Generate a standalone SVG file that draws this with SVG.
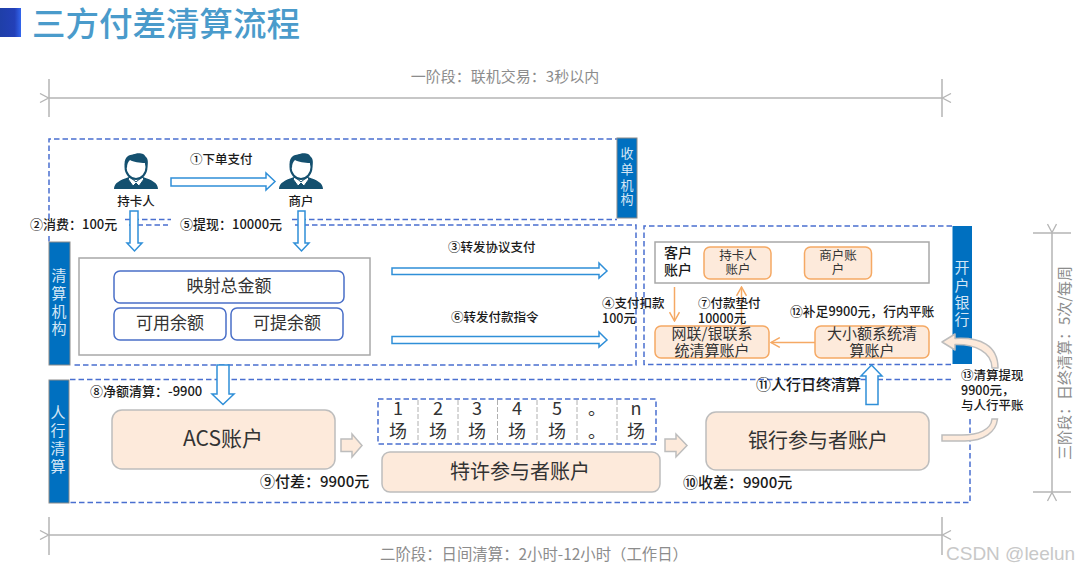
<svg xmlns="http://www.w3.org/2000/svg" width="1080" height="570" viewBox="0 0 1080 570">
<style>
text{font-family:"Noto Sans CJK SC","Noto Sans",sans-serif}
.dim{stroke:#b5b5b5;stroke-width:1.5;fill:none}
.dimt{fill:#8c8c8c;font-size:15px;text-anchor:middle}
.dash{stroke:#4a6fd0;stroke-width:1.5;stroke-dasharray:5.500 3;fill:none}
.bar{fill:#0070c0;stroke:#8a8a8a;stroke-width:1}
.bart{fill:#d4e6f5;text-anchor:middle}
.hol{fill:#fff;stroke:#2f8fd8;stroke-width:1.5}
.lab{fill:#1a1a1a;font-size:12.500px;font-weight:500}
.lab13{fill:#1a1a1a;font-size:13px;font-weight:500}
.lab15{fill:#1a1a1a;font-size:15px;font-weight:500}
.box{fill:#fff;stroke:#a8a8a8;stroke-width:1.5}
.blue{fill:#fff;stroke:#4a6fc8;stroke-width:1.5}
.or{fill:#fdeadb;stroke:#f5a964;stroke-width:1.5}
.pe{fill:#fdeadb;stroke:#bdbdbd;stroke-width:1.5}
.t{fill:#333;text-anchor:middle}
.ol{stroke:#f5a964;stroke-width:1.5;fill:none}
.sep{stroke:#b0b0b0;stroke-width:1;stroke-dasharray:5 2}
</style>
<defs>
<linearGradient id="tg" x1="0" x2="1" y1="0" y2="0"><stop offset="0" stop-color="#1f3fa8"/><stop offset="0.7" stop-color="#2340b8"/><stop offset="1" stop-color="#3366ee"/></linearGradient>
<marker id="da" viewBox="0 0 10 10" refX="0" refY="5" markerWidth="10" markerHeight="10" markerUnits="userSpaceOnUse" orient="auto-start-reverse"><path d="M9,0.5L0.5,5L9,9.5" fill="none" stroke="#b5b5b5" stroke-width="1.3"/></marker>
<marker id="oa" viewBox="0 0 10 10" refX="9" refY="5" markerWidth="11" markerHeight="11" markerUnits="userSpaceOnUse" orient="auto"><path d="M1,0.5L9,5L1,9.5" fill="none" stroke="#f5a964" stroke-width="1.3"/></marker>
<symbol id="person" viewBox="-23 0 46 37" width="46" height="37" overflow="visible">
<path d="M-22,36C-22,30 -16,27 -7,24L0,29L7,24C16,27 22,30 22,36Z" fill="#14506f"/>
<path d="M-6,24L0,29L6,24L8,26L3,33L0,30L-3,33L-8,26Z" fill="#fff" stroke="#14506f" stroke-width="1"/>
<ellipse cx="0" cy="14" rx="10.500" ry="12" fill="#fff" stroke="#14506f" stroke-width="2"/>
<path d="M-11,14C-13,5 -7,1 -3,2C0,-1 9,0 9,3C13,6 12,11 11,15L9,10C4,10 -3,9 -6,7C-8,9 -9,11 -9,15Z" fill="#14506f"/>
</symbol>
</defs>
<rect width="1080" height="570" fill="#fff"/>

<g id="title">
<rect x="0" y="8" width="21" height="29" fill="url(#tg)"/>
<text x="32" y="36" font-size="33.500" font-weight="500" fill="#4a9bcb">三方付差清算流程</text>
</g>

<g id="dimensions">
<path class="dim" d="M49,79V117M942,79V117"/>
<line class="dim" x1="49" y1="98" x2="942" y2="98" marker-start="url(#da)" marker-end="url(#da)"/>
<text class="dimt" x="505" y="82">一阶段：联机交易：3秒以内</text>
<path class="dim" d="M49,517V555M942,517V555"/>
<line class="dim" x1="49" y1="535" x2="942" y2="535" marker-start="url(#da)" marker-end="url(#da)"/>
<text class="dimt" x="534" y="560" style="font-size:15.400px">二阶段：日间清算：2小时-12小时（工作日）</text>
<path class="dim" d="M1033,233H1071M1033,492H1071"/>
<line class="dim" x1="1052" y1="233" x2="1052" y2="492" marker-start="url(#da)" marker-end="url(#da)"/>
<text class="dimt" transform="translate(1070,363) rotate(-90)">三阶段：日终清算：5次/每周</text>
</g>

<g id="regions">
<path class="dash" d="M49,219V139H617"/>
<path class="dash" d="M125,219.500H171M292,219.500H617"/>
<path class="dash" d="M129,225H168M295,225H636V365H74"/>
<path class="dash" d="M49,236V242"/>
<path class="dash" d="M952,226H644V364.500H952"/>
<path class="dash" d="M70,379.500H953"/>
<path class="dash" d="M970,419V502.500H70"/>
</g>

<g id="node-acquirer-bar"><rect class="bar" x="617" y="138" width="20" height="80"/>
<text class="bart" font-size="13" x="627"><tspan x="627" y="158">收</tspan><tspan x="627" y="174">单</tspan><tspan x="627" y="190">机</tspan><tspan x="627" y="204">构</tspan></text></g>
<g id="node-clearing-bar"><rect class="bar" x="49" y="242" width="21" height="123"/>
<text class="bart" font-size="15"><tspan x="59" y="281">清</tspan><tspan x="59" y="299">算</tspan><tspan x="59" y="317">机</tspan><tspan x="59" y="334">构</tspan></text></g>
<g id="node-pboc-bar"><rect class="bar" x="49" y="380" width="20" height="123"/>
<text class="bart" font-size="15"><tspan x="58" y="418">人</tspan><tspan x="58" y="436">行</tspan><tspan x="58" y="454">清</tspan><tspan x="58" y="472">算</tspan></text></g>
<g id="node-bank-bar"><rect x="952.500" y="226" width="19.500" height="138" fill="#0070c0"/>
<text class="bart" font-size="15"><tspan x="962" y="273">开</tspan><tspan x="962" y="291">户</tspan><tspan x="962" y="308">银</tspan><tspan x="962" y="325">行</tspan></text></g>

<g id="node-cardholder"><use href="#person" x="113" y="153"/><text class="lab" x="136" y="206" text-anchor="middle">持卡人</text></g>
<g id="node-merchant"><use href="#person" x="278" y="153"/><text class="lab" x="301" y="206" text-anchor="middle">商户</text></g>

<g id="node-clearing-box"><rect class="box" x="79" y="258" width="291" height="97"/>
<rect class="blue" x="114" y="271" width="230" height="32" rx="6"/><text class="t" font-size="17" x="229" y="292">映射总金额</text>
<rect class="blue" x="114" y="308" width="112" height="32" rx="6"/><text class="t" font-size="17" x="170" y="329">可用余额</text>
<rect class="blue" x="231" y="308" width="112" height="32" rx="6"/><text class="t" font-size="17" x="287" y="329">可提余额</text></g>

<g id="node-customer-accounts"><rect class="box" x="655" y="242" width="274" height="41"/>
<text font-size="14" font-weight="500" fill="#1a1a1a"><tspan x="664" y="258">客户</tspan><tspan x="664" y="275">账户</tspan></text>
<rect class="or" x="704" y="247" width="67" height="32" rx="6"/><text class="t" font-size="12.500"><tspan x="738" y="260">持卡人</tspan><tspan x="738" y="274">账户</tspan></text>
<rect class="or" x="804.500" y="247" width="67" height="32" rx="6"/><text class="t" font-size="12.500"><tspan x="838" y="260">商户账</tspan><tspan x="838" y="274">户</tspan></text></g>
<g id="node-unionpay"><rect class="or" x="655" y="326" width="114" height="32" rx="6"/><text class="t" font-size="15"><tspan x="712" y="339">网联/银联系</tspan><tspan x="712" y="356">统清算账户</tspan></text></g>
<g id="node-hvps"><rect class="or" x="815" y="326" width="114" height="32" rx="6"/><text class="t" font-size="15"><tspan x="872" y="339">大小额系统清</tspan><tspan x="872" y="356">算账户</tspan></text></g>

<g id="node-acs"><rect class="pe" x="112" y="410" width="223" height="59" rx="10"/><text class="t" font-size="21" x="223" y="446">ACS账户</text></g>
<g id="node-sessions"><rect x="378" y="399" width="278" height="45" fill="#fff"/>
<path class="sep" d="M418,400V444M458,400V444M497.500,400V444M537,400V444M577,400V444M617,400V444"/>
<rect class="dash" x="378" y="399" width="278" height="45"/>
<g class="t" font-size="18"><text x="398" y="415">1</text><text x="438" y="415">2</text><text x="477" y="415">3</text><text x="517" y="415">4</text><text x="557" y="415">5</text><text x="597" y="415">。</text><text x="636" y="415">n</text>
<text x="398" y="438">场</text><text x="438" y="438">场</text><text x="477" y="438">场</text><text x="517" y="438">场</text><text x="557" y="438">场</text><text x="597" y="438">。</text><text x="636" y="438">场</text></g></g>
<g id="node-franchise"><rect class="pe" x="382" y="452" width="278" height="40" rx="8"/><text class="t" font-size="20" x="520" y="479">特许参与者账户</text></g>
<g id="node-bank-participant"><rect class="pe" x="706" y="412" width="223" height="58" rx="10"/><text class="t" font-size="20" x="818" y="448">银行参与者账户</text></g>

<g id="connectors">
<path class="hol" d="M171,178H266V173L275,181.500L266,190V186H171Z"/>
<path class="hol" d="M130,211H138V243H142L134.500,251L127,243H130Z"/>
<path class="hol" d="M298,211H305V243H309L301.500,251L294,243H298Z"/>
<path class="hol" d="M392,268H599V263L607,271L599,278V274.500H392Z"/>
<path class="hol" d="M392,336.500H599V332L607,340L599,347V343.500H392Z"/>
<path class="hol" d="M217,365H229V394H234L223,404.500L212,394H217Z"/>
<path class="hol" d="M866,404.500V376H861L871.500,365L882,376H878V404.500Z"/>
<path class="pe" d="M341,439H352V434L362,445.500L352,457V451.500H341Z"/>
<path class="pe" d="M665,439H676V434L687,445.500L676,457V451.500H665Z"/>
<line class="ol" x1="674.500" y1="287" x2="674.500" y2="321" marker-end="url(#oa)"/>
<line class="ol" x1="741.500" y1="325" x2="741.500" y2="287" marker-end="url(#oa)"/>
<line class="ol" x1="815" y1="342.500" x2="771" y2="342.500" marker-end="url(#oa)"/>
<path class="pe" stroke-linejoin="round" d="M942,342L955,334V338.500C980,337 998,345 998,368H992C992,352 975,344 955,344.500V350Z"/>
<path class="pe" d="M997.500,419C996,432 984,441 965,441H942V435H962C978,435 991,430 992,419Z"/>
</g>

<g id="labels">
<text class="lab" x="190" y="164">①下单支付</text>
<text class="lab13" x="30" y="229">②消费：100元</text>
<text class="lab13" x="180" y="229">⑤提现：10000元</text>
<text class="lab" x="448" y="252">③转发协议支付</text>
<text class="lab" x="451" y="322">⑥转发付款指令</text>
<text class="lab"><tspan x="602" y="308">④支付扣款</tspan><tspan x="602" y="323">100元</tspan></text>
<text class="lab"><tspan x="698" y="308">⑦付款垫付</tspan><tspan x="698" y="323">10000元</tspan></text>
<text class="lab13" x="790" y="316" style="font-size:12.800px">⑫补足9900元，行内平账</text>
<text class="lab13" x="90" y="396">⑧净额清算：-9900</text>
<text class="lab15" x="756" y="390">⑪人行日终清算</text>
<text class="lab"><tspan x="961" y="380">⑬清算提现</tspan><tspan x="961" y="395">9900元，</tspan><tspan x="961" y="410">与人行平账</tspan></text>
<text class="lab15" x="260" y="487">⑨付差：9900元</text>
<text class="lab15" x="683" y="488">⑩收差：9900元</text>
<text x="946" y="560" font-size="19" fill="#c8c8c8" style="font-family:'Liberation Sans',sans-serif">CSDN @leelun</text>
</g>
</svg>
